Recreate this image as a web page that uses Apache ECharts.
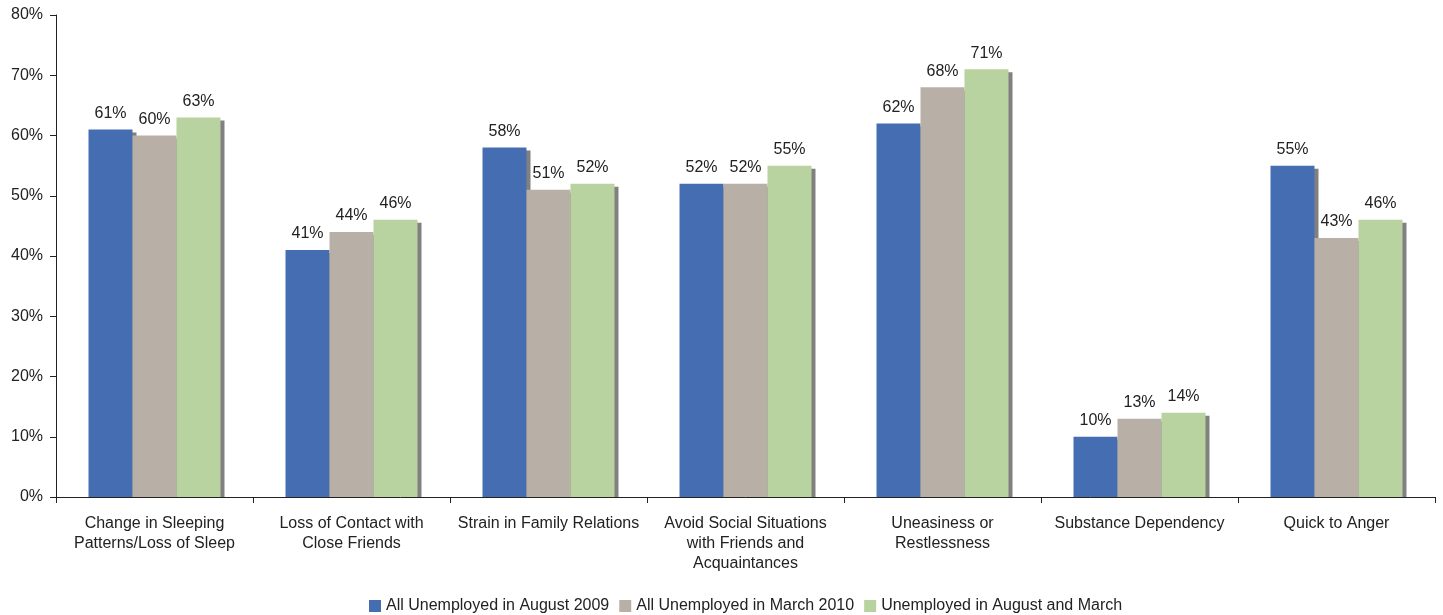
<!DOCTYPE html>
<html>
<head>
<meta charset="utf-8">
<script src="https://cdn.jsdelivr.net/npm/echarts@6/dist/echarts.min.js"></script>
<style>html,body{margin:0;padding:0;background:#fff}#c{width:1443px;height:615px}</style>
</head>
<body>
<div id="c"></div>
<script>
const categories = [
  "Change in Sleeping\nPatterns/Loss of Sleep",
  "Loss of Contact with\nClose Friends",
  "Strain in Family Relations",
  "Avoid Social Situations\nwith Friends and\nAcquaintances",
  "Uneasiness or\nRestlessness",
  "Substance Dependency",
  "Quick to Anger"
];
const seriesNames = ["All Unemployed in August 2009", "All Unemployed in March 2010", "Unemployed in August and March"];
const aug2009 = [61, 41, 58, 52, 62, 10, 55];
const mar2010 = [60, 44, 51, 52, 68, 13, 43];
const both = [63, 46, 52, 55, 71, 14, 46];
const colors = ["#456EB2", "#B8B0A7", "#B8D2A0"];

const chart = echarts.init(document.getElementById('c'));
const font = "'Liberation Sans', Arial, Helvetica, sans-serif";
function mk(name, data, color) {
  return {
    name: name, type: 'bar', data: data, barGap: '0%', barCategoryGap: '33%', z: 2,
    itemStyle: { color: color, shadowColor: '#808080', shadowOffsetX: 4, shadowOffsetY: 3, shadowBlur: 0 },
    label: { show: true, position: 'top', distance: 8, formatter: '{c}%', color: '#222', fontSize: 16, fontFamily: font }
  };
}
chart.setOption({
  animation: false,
  color: colors,
  textStyle: { fontFamily: font },
  grid: { left: 56, right: 8, top: 15, bottom: 118, containLabel: false },
  legend: {
    top: 593, left: 364, itemWidth: 12, itemHeight: 12, itemGap: 10,
    icon: 'rect',
    textStyle: { color: '#222', fontSize: 16, fontFamily: font, padding: [0, 0, 0, 0] },
    data: seriesNames
  },
  xAxis: {
    type: 'category', data: categories, z: 10,
    axisLine: { lineStyle: { color: '#222', width: 1 } },
    axisTick: { show: true, length: 6, lineStyle: { color: '#222' }, inside: false },
    axisLabel: { color: '#222', fontSize: 16, lineHeight: 20, margin: 17, interval: 0, fontFamily: font }
  },
  yAxis: {
    type: 'value', min: 0, max: 80, interval: 10, z: 10,
    axisLine: { show: true, lineStyle: { color: '#222' } },
    axisTick: { show: true, length: 6, lineStyle: { color: '#222' } },
    splitLine: { show: false },
    axisLabel: { formatter: '{value}%', color: '#222', fontSize: 16, margin: 13, fontFamily: font }
  },
  series: [mk(seriesNames[0], aug2009, colors[0]), mk(seriesNames[1], mar2010, colors[1]), mk(seriesNames[2], both, colors[2])]
});
// mask the part of the bar shadows that falls below the x axis
const origin = chart.convertToPixel({ gridIndex: 0 }, [0, 0]);
const gridModel = chart.getModel().getComponent('grid', 0);
const rectG = gridModel.coordinateSystem.getRect();
chart.setOption({
  graphic: [{
    type: 'rect', z: 5, silent: true,
    shape: { x: rectG.x + 1, y: origin[1] + 0.5, width: rectG.width, height: 5 },
    style: { fill: '#fff' }
  }]
});
</script>
</body>
</html>
